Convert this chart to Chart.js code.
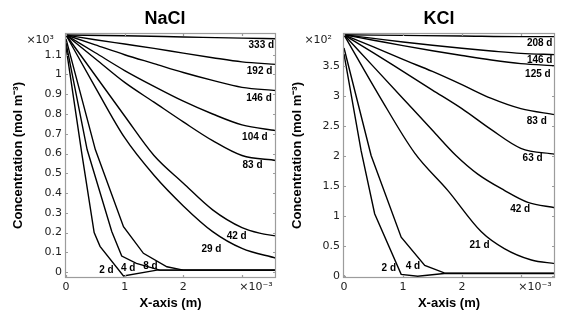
<!DOCTYPE html>
<html>
<head>
<meta charset="utf-8">
<script src="https://cdn.jsdelivr.net/npm/chart.js@4.4.1/dist/chart.umd.min.js"></script>
<style>
    html, body { margin: 0; padding: 0; background: #fff; }
    #wrap { position: relative; width: 567px; height: 316px; }
    #wrap canvas { position: absolute; top: 0; }
</style>
</head>
<body>
<div id="wrap">
    <canvas id="naclChart" width="283" height="316" style="left:0"></canvas>
    <canvas id="kclChart" width="284" height="316" style="left:283px"></canvas>
</div>
<script>
// tick values (x in 10^-3 m)
const xTicks = [0, 1, 2, 3];
const naclYTicks = [0, 0.1, 0.2, 0.3, 0.4, 0.5, 0.6, 0.7, 0.8, 0.9, 1, 1.1];   // x10^3
const kclYTicks = [0, 0.5, 1, 1.5, 2, 2.5, 3, 3.5];                              // x10^2

// NaCl profiles [x, concentration]
const nacl333 = [[0,1.2],[1,1.196],[2,1.19],[3,1.184],[3.58,1.181]];
const nacl192 = [[0,1.2],[0.5,1.176],[1,1.154],[1.5,1.132],[2,1.108],[2.5,1.085],[3,1.064],[3.58,1.051]];
const nacl146 = [[0,1.2],[0.5,1.15],[1,1.1],[1.5,1.055],[2,1.01],[2.5,0.97],[3,0.935],[3.58,0.919]];
const nacl104 = [[0,1.2],[0.5,1.11],[1,1.02],[1.5,0.94],[2,0.865],[2.5,0.8],[3,0.745],[3.58,0.716]];
const nacl83  = [[0,1.2],[0.5,1.08],[1,0.96],[1.5,0.86],[2,0.76],[2.5,0.665],[3,0.59],[3.58,0.565]];
const nacl42  = [[0,1.2],[0.5,0.995],[1,0.79],[1.5,0.59],[2,0.45],[2.5,0.315],[3,0.225],[3.3,0.197],[3.58,0.183]];
const nacl29  = [[0,1.2],[0.5,0.935],[1,0.68],[1.5,0.49],[2,0.335],[2.5,0.205],[3,0.12],[3.58,0.07]];
const nacl8   = [[0,1.18],[0.5,0.62],[0.98,0.23],[1.32,0.095],[1.72,0.027],[2,0.01],[3.58,0.01]];
const nacl4   = [[0,1.16],[0.36,0.62],[0.78,0.205],[0.95,0.081],[1.2,0.044],[1.6,0.01],[3.58,0.01]];
const nacl2   = [[0,1.14],[0.27,0.6],[0.48,0.2],[0.58,0.13],[0.98,-0.02],[1.55,0.01],[3.58,0.01]];
const naclCurves = [nacl333, nacl192, nacl146, nacl104, nacl83, nacl42, nacl29, nacl8, nacl4, nacl2];
const naclDays = [333, 192, 146, 104, 83, 42, 29, 8, 4, 2];
const naclLabelAt = [[3.33,1.147],[3.3,1.014],[3.29,0.882],[3.22,0.684],[3.18,0.543],[2.91,0.183],[2.48,0.118],[1.44,0.03],[1.06,0.019],[0.69,0.007]];

// KCl profiles [x, concentration]
const kcl208 = [[0,4.02],[1,4.01],[2,4.0],[3,3.99],[3.58,3.99]];
const kcl146 = [[0,4.02],[0.5,3.96],[1,3.9],[1.5,3.845],[2,3.795],[2.5,3.75],[3,3.71],[3.58,3.69]];
const kcl125 = [[0,4.02],[0.5,3.93],[1,3.84],[1.5,3.755],[2,3.675],[2.5,3.6],[3,3.54],[3.58,3.505]];
const kcl83  = [[0,4.02],[0.5,3.82],[1,3.61],[1.5,3.41],[2,3.19],[2.5,2.96],[3,2.79],[3.58,2.69]];
const kcl63  = [[0,4.02],[0.5,3.72],[1,3.41],[1.5,3.1],[2,2.79],[2.5,2.44],[3,2.13],[3.58,2.03]];
const kcl42  = [[0,4.02],[0.5,3.49],[1,2.96],[1.5,2.43],[1.9,2.01],[2.27,1.7],[2.72,1.43],[3.12,1.23],[3.58,1.14]];
const kcl21  = [[0,4.02],[0.6,3.0],[1.2,2.05],[1.76,1.43],[2.33,0.74],[2.72,0.46],[3.18,0.27],[3.58,0.21]];
const kcl4   = [[0,3.8],[0.46,2.01],[0.97,0.65],[1.37,0.18],[1.7,0.055],[3.58,0.05]];
const kcl2   = [[0,3.7],[0.29,2.09],[0.52,1.04],[0.97,0.03],[1.25,0.0],[1.7,0.045],[3.58,0.045]];
const kclCurves = [kcl208, kcl146, kcl125, kcl83, kcl63, kcl42, kcl21, kcl4, kcl2];
const kclDays = [208, 146, 125, 83, 63, 42, 21, 4, 2];
const kclLabelAt = [[3.32,3.88],[3.32,3.59],[3.29,3.37],[3.27,2.58],[3.2,1.96],[2.99,1.11],[2.3,0.51],[1.17,0.17],[0.76,0.13]];

const fmt = v => String(+v.toFixed(2));

// frame, inward ticks, title, exponents and day labels
const decor = {
    id: 'decor',
    afterDraw(chart, args, o) {
        const { ctx, chartArea: a, scales: { x, y } } = chart;
        ctx.save();
        ctx.strokeStyle = '#9c9c9c';
        ctx.lineWidth = 1.2;
        ctx.strokeRect(a.left + 0.5, a.top + 0.5, a.right - a.left - 1, a.bottom - a.top - 1);
        ctx.beginPath();
        x.ticks.forEach(t => {
            const px = Math.round(x.getPixelForValue(t.value)) + 0.5;
            ctx.moveTo(px, a.bottom); ctx.lineTo(px, a.bottom - 3);
            ctx.moveTo(px, a.top); ctx.lineTo(px, a.top + 3);
        });
        y.ticks.forEach(t => {
            const py = Math.round(y.getPixelForValue(t.value)) + 0.5;
            ctx.moveTo(a.left, py); ctx.lineTo(a.left + 3, py);
            ctx.moveTo(a.right, py); ctx.lineTo(a.right - 3, py);
        });
        ctx.stroke();

        ctx.fillStyle = '#000';
        ctx.textBaseline = 'middle';
        ctx.textAlign = 'center';
        ctx.font = 'bold 18px "Liberation Sans", Arial, sans-serif';
        ctx.fillText(o.title, o.titleX, 19);

        ctx.fillStyle = '#222';
        ctx.font = '11px "DejaVu Sans", sans-serif';
        ctx.textAlign = 'right';
        ctx.fillText(o.yExp, a.left - 11, 40);
        ctx.textAlign = 'center';
        ctx.fillText('×10⁻³', a.right - 20, 287);

        ctx.fillStyle = '#000';
        ctx.font = 'bold 10px "Liberation Sans", Arial, sans-serif';
        o.days.forEach((d, i) => {
            const p = o.at[i];
            ctx.fillText(d + ' d', x.getPixelForValue(p[0]), y.getPixelForValue(p[1]));
        });
        ctx.restore();
    }
};

function makePanel(id, curves, days, labelAt, yTicks, yMin, yMax, opts) {
    new Chart(document.getElementById(id), {
        type: 'line',
        data: {
            datasets: curves.map((c, i) => ({
                data: c.map(p => ({ x: p[0], y: p[1] })),
                borderColor: '#000',
                borderWidth: 1.4,
                pointRadius: 0,
                fill: false,
                tension: days[i] < 10 ? 0 : 0.4,
                cubicInterpolationMode: days[i] < 10 ? 'default' : 'monotone'
            }))
        },
        options: {
            responsive: false,
            devicePixelRatio: 1,
            animation: false,
            layout: { padding: { top: 33, right: opts.padRight, left: 0, bottom: 0 } },
            plugins: {
                legend: { display: false },
                tooltip: { enabled: false },
                decor: { title: opts.title, titleX: opts.titleX, yExp: opts.yExp, days: days, at: labelAt }
            },
            scales: {
                x: {
                    type: 'linear',
                    min: -0.017,
                    max: 3.58,
                    afterBuildTicks: s => { s.ticks = xTicks.map(v => ({ value: v })); },
                    afterFit: s => { s.height = 38; },
                    grid: { display: false, drawTicks: false },
                    border: { display: false },
                    ticks: {
                        padding: 3,
                        color: '#222',
                        font: { family: 'DejaVu Sans', size: 11 },
                        callback: v => v === 3 ? '' : fmt(v)
                    },
                    title: {
                        display: true,
                        text: 'X-axis (m)',
                        color: '#000',
                        font: { family: 'Liberation Sans', size: 13, weight: 'bold' },
                        padding: { top: 0, bottom: 5 }
                    }
                },
                y: {
                    min: yMin,
                    max: yMax,
                    afterBuildTicks: s => { s.ticks = yTicks.map(v => ({ value: v })); },
                    afterFit: s => { s.width = opts.yWidth; },
                    grid: { display: false, drawTicks: false },
                    border: { display: false },
                    ticks: {
                        padding: 3,
                        color: '#222',
                        font: { family: 'DejaVu Sans', size: 11 },
                        callback: v => fmt(v)
                    },
                    title: {
                        display: true,
                        text: 'Concentration (mol m⁻³)',
                        color: '#000',
                        font: { family: 'Liberation Sans', size: 13, weight: 'bold' },
                        padding: { top: opts.yTitlePad, bottom: 0 }
                    }
                }
            }
        },
        plugins: [decor]
    });
}

makePanel('naclChart', naclCurves, naclDays, naclLabelAt, naclYTicks, -0.03, 1.21,
    { title: 'NaCl', titleX: 165, yExp: '×10³', padRight: 7, yWidth: 65, yTitlePad: 11 });
makePanel('kclChart', kclCurves, kclDays, kclLabelAt, kclYTicks, -0.03, 4.05,
    { title: 'KCl', titleX: 156, yExp: '×10²', padRight: 12, yWidth: 60, yTitlePad: 7 });
</script>
</body>
</html>
